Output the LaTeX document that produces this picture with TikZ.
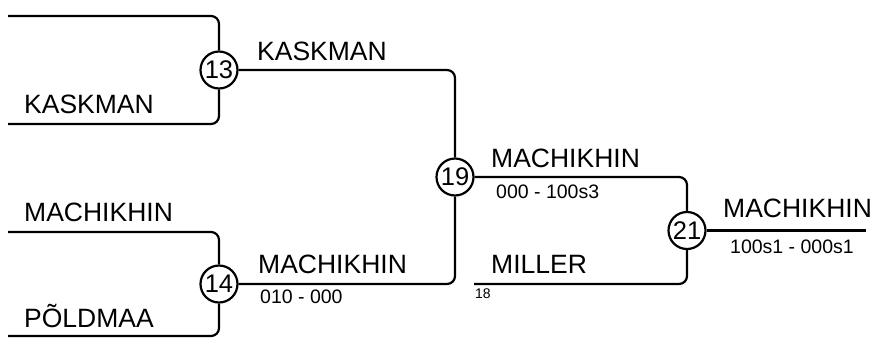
\documentclass[tikz,border=0pt]{standalone}
\usepackage{fontspec}
\setmainfont{Liberation Sans}
\begin{document}
\begin{tikzpicture}[x=1pt,y=-1pt,
  wire/.style={line width=2.2pt,rounded corners=8pt},
  seed/.style={circle,draw,line width=2.2pt,minimum size=37pt,inner sep=0pt,fill=white,font=\fontsize{25.5}{30}\selectfont},
  player/.style={anchor=base west,inner sep=0pt,font=\fontsize{26.5}{31}\selectfont},
  score/.style={anchor=base west,inner sep=0pt,font=\fontsize{19.5}{23}\selectfont},
  tiny/.style={anchor=base west,inner sep=0pt,font=\fontsize{14}{17}\selectfont}]
\useasboundingbox (0,0) rectangle (875,338);
% endpoints
\coordinate (a1) at (8,16);
\coordinate (a2) at (8,124);
\coordinate (b1) at (8,232);
\coordinate (b2) at (8,336);
\coordinate (c18) at (474,284);
\coordinate (fin) at (866,230.5);
% match circles
\node[seed] (m13) at (219,70) {13};
\node[seed] (m14) at (219,284) {14};
\node[seed] (m19) at (455,177) {19};
\node[seed] (m21) at (687,230.5) {21};
% connectors
\draw[wire] (a1) -| (m13.north);
\draw[wire] (a2) -| (m13.south);
\draw[wire] (b1) -| (m14.north);
\draw[wire] (b2) -| (m14.south);
\draw[wire] (m13.east) -| (m19.north);
\draw[wire] (m14.east) -| (m19.south);
\draw[wire] (m19.east) -| (m21.north);
\draw[wire] (c18) -| (m21.south);
\draw[wire] (m21.east) -- (fin);
% labels
\node[player] (p1) at (24,113) {KASKMAN};
\node[player] (p2) at (24,221) {MACHIKHIN};
\node[player] (p3) at (24,327) {PÕLDMAA};
\node[player] (w13) at (257,60) {KASKMAN};
\node[player] (w14) at (258,273) {MACHIKHIN};
\node[score] (s14) at (260,303) {010 - 000};
\node[player] (w19) at (491,167) {MACHIKHIN};
\node[score] (s19) at (496,198) {000 - 100s3};
\node[player] (pm) at (491,273) {MILLER};
\node[tiny] (n18) at (475,298) {18};
\node[player] (w21) at (723,217) {MACHIKHIN};
\node[score] (s21) at (730,253) {100s1 - 000s1};
\end{tikzpicture}
\end{document}
